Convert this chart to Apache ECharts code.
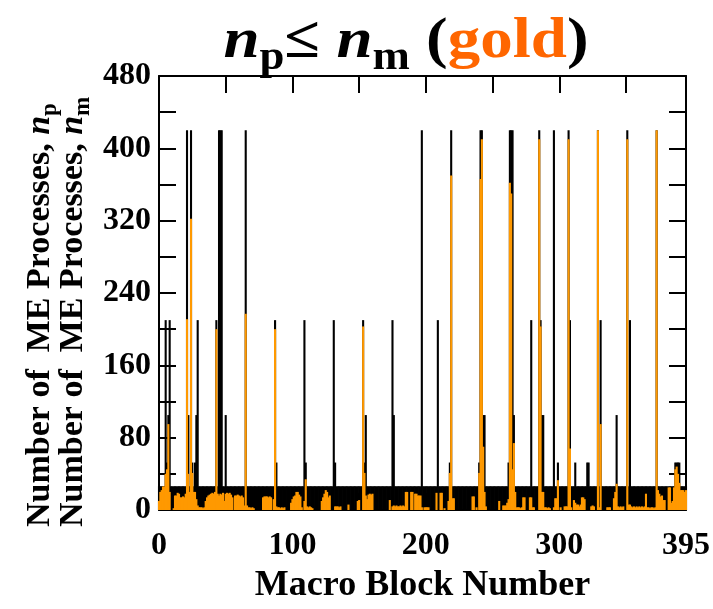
<!DOCTYPE html>
<html><head><meta charset="utf-8">
<script src="https://cdn.jsdelivr.net/npm/echarts@6/dist/echarts.min.js"></script>
<style>html,body{margin:0;padding:0;background:#fff}#c{width:713px;height:609px}</style>
</head><body><div id="c"></div><script>
// Number of ME processes per macro block (index = macro block number 0..395)
const nm = [
26.25,26.25,26.25,26.25,26.25,210,52.5,105,210,26.25,26.25,26.25,26.25,26.25,26.25,26.25,26.25,26.25,26.25,26.25,
26.25,420,105,26.25,420,52.5,26.25,52.5,105,210,26.25,26.25,26.25,26.25,26.25,26.25,26.25,26.25,26.25,26.25,
26.25,26.25,26.25,210,26.25,420,420,420,26.25,26.25,105,26.25,26.25,26.25,26.25,26.25,26.25,26.25,26.25,26.25,
26.25,26.25,26.25,26.25,26.25,420,26.25,26.25,26.25,26.25,26.25,26.25,26.25,26.25,26.25,26.25,26.25,26.25,26.25,26.25,
26.25,26.25,26.25,26.25,26.25,26.25,26.25,210,52.5,26.25,26.25,26.25,26.25,26.25,26.25,26.25,26.25,26.25,26.25,26.25,
26.25,26.25,26.25,26.25,26.25,26.25,26.25,26.25,26.25,210,52.5,26.25,26.25,26.25,26.25,26.25,26.25,26.25,26.25,26.25,
26.25,26.25,26.25,26.25,26.25,26.25,26.25,26.25,26.25,26.25,26.25,210,52.5,26.25,26.25,26.25,26.25,26.25,26.25,26.25,
26.25,26.25,26.25,26.25,26.25,26.25,26.25,26.25,26.25,26.25,26.25,26.25,26.25,210,52.5,105,26.25,26.25,26.25,26.25,
26.25,26.25,26.25,26.25,26.25,26.25,26.25,26.25,26.25,26.25,26.25,26.25,26.25,26.25,26.25,210,105,26.25,26.25,26.25,
26.25,26.25,26.25,26.25,26.25,26.25,26.25,26.25,26.25,26.25,26.25,26.25,26.25,26.25,26.25,26.25,26.25,420,26.25,26.25,
26.25,26.25,26.25,26.25,26.25,26.25,26.25,26.25,26.25,210,26.25,26.25,26.25,26.25,26.25,26.25,26.25,26.25,52.5,420,
26.25,26.25,26.25,26.25,26.25,26.25,26.25,26.25,26.25,26.25,26.25,26.25,26.25,26.25,26.25,26.25,26.25,26.25,26.25,26.25,
52.5,420,420,105,105,26.25,26.25,26.25,26.25,26.25,26.25,26.25,26.25,26.25,26.25,26.25,26.25,26.25,26.25,26.25,
26.25,26.25,52.5,420,420,420,105,26.25,26.25,26.25,26.25,26.25,26.25,26.25,26.25,26.25,26.25,26.25,26.25,210,
26.25,26.25,26.25,26.25,26.25,420,210,105,105,26.25,26.25,26.25,26.25,26.25,26.25,26.25,420,26.25,26.25,52.5,
26.25,26.25,26.25,26.25,26.25,26.25,26.25,420,210,26.25,26.25,26.25,52.5,26.25,26.25,26.25,26.25,26.25,26.25,26.25,
26.25,52.5,52.5,26.25,26.25,26.25,26.25,26.25,26.25,420,26.25,210,26.25,26.25,26.25,26.25,26.25,26.25,26.25,26.25,
26.25,26.25,26.25,105,26.25,26.25,26.25,26.25,26.25,26.25,26.25,420,26.25,210,26.25,26.25,26.25,26.25,26.25,26.25,
26.25,26.25,26.25,26.25,26.25,26.25,26.25,26.25,26.25,26.25,26.25,26.25,26.25,420,26.25,26.25,26.25,26.25,26.25,26.25,
26.25,26.25,26.25,26.25,26.25,26.25,26.25,52.5,52.5,52.5,52.5,26.25,26.25,26.25,26.25,26.25
];
const np = [
10,20,22,26,26,40,45,95,20,0,0,2,16,16,19,18,14,14,15,14,
18,211,40,20,322,41,20,20,12,5,3,3,3,2,3,10,14,16,17,18,
19,18,20,200,18,16,18,17,19,10,18,19,18,19,17,14,0,16,16,17,
16,15,16,14,5,217,5,3,3,2,3,2,0,0,0,0,0,0,14,15,
15,15,14,15,14,0,12,200,4,3,3,2,3,2,3,0,0,0,0,8,
12,15,16,20,20,17,15,3,0,10,34,4,3,4,3,2,0,0,0,0,
0,0,10,14,18,22,20,14,16,0,0,0,4,4,4,3,4,0,0,0,
0,0,6,0,0,0,0,0,0,10,11,0,0,203,41,16,12,17,18,17,
18,0,0,0,0,0,0,0,0,0,0,0,0,11,0,4,5,4,5,4,
4,5,4,5,4,20,20,0,0,20,20,0,18,18,16,16,16,3,0,3,
3,3,3,0,0,0,0,0,19,0,0,19,19,0,2,0,0,10,41,370,
13,13,0,0,0,0,0,0,0,0,0,0,0,0,0,15,15,0,3,0,
41,366,410,70,20,4,0,0,0,0,0,0,0,0,0,10,0,0,5,5,
5,8,12,362,350,45,74,20,3,3,3,2,3,14,14,0,0,0,14,14,
3,3,0,0,0,410,203,20,20,3,3,2,3,2,0,0,3,13,13,33,
0,3,0,0,4,4,4,410,68,3,0,11,8,6,6,4,6,14,14,12,
0,0,0,0,4,5,4,0,0,420,3,95,0,0,0,0,3,3,3,0,
0,13,20,29,4,3,4,3,4,0,0,410,6,6,4,3,4,3,4,3,
4,3,4,3,4,18,3,3,2,3,3,2,3,420,22,18,15,16,11,11,
0,0,25,25,8,10,25,45,48,40,30,22,22,22,20,22
];
const xTickLabels = ['0','100','200','300','395'];
const yTickLabels = ['0','80','160','240','320','400','480'];

const FONT = '"Liberation Serif", "Times New Roman", serif';
const ctx = document.createElement('canvas').getContext('2d');
function tw(t, s, it){ ctx.font = (it?'italic ':'') + 'bold ' + s + 'px ' + FONT; return ctx.measureText(t).width; }
function pieces(list){
  let x = 0; const out = [];
  list.forEach(p => {
    out.push({type:'text', x:x, y:(p.dy||0) - 0.2*p.s, style:{text:p.t, font:(p.i?'italic ':'')+'bold '+p.s+'px '+FONT, fill:p.c||'#000', textAlign:'left', verticalAlign:'middle', textVerticalAlign:'middle'}});
    x += tw(p.t, p.s, p.i) + (p.sp||0);
  });
  return {children: out, width: x};
}
const titleP = pieces([
  {t:'n', s:58, i:1}, {t:'p', s:40, dy:13}, {t:'\u2264', s:58}, {t:' ', s:58},
  {t:'n', s:58, i:1}, {t:'m', s:40, dy:13}, {t:' (', s:58}, {t:'gold', s:58, c:'#ff6600'}, {t:')', s:58}
]);
const TSX = 1.12;
const yl1 = pieces([{t:'Number of  ME Processes, ', s:34}, {t:'n', s:34, i:1}, {t:'p', s:23, dy:8}]);
const yl2 = pieces([{t:'Number of  ME Processes, ', s:34}, {t:'n', s:34, i:1}, {t:'m', s:23, dy:8}]);

const chart = echarts.init(document.getElementById('c'), null, {renderer:'canvas'});
const axisLbl = {fontFamily: FONT, fontWeight:'bold', fontSize:32, color:'#000'};
const lineStyle = {color:'#000', width:2};
chart.setOption({
  animation:false,
  backgroundColor:'#fff',
  grid:{left:159, right:23, top:76, bottom:87},
  xAxis:[
    {type:'value', min:0, max:395, interval:50, position:'bottom',
     axisLine:{show:true, onZero:false, lineStyle}, axisTick:{show:true, inside:true, length:17, lineStyle},
     splitLine:{show:false},
     axisLabel:Object.assign({margin:20, showMaxLabel:true, formatter:v => xTickLabels.includes(String(v)) ? String(v) : ''}, axisLbl),
     name:'Macro Block Number', nameLocation:'middle', nameGap:58,
     nameTextStyle:{fontFamily:FONT, fontWeight:'bold', fontSize:36, color:'#000'}},
    {type:'value', min:0, max:395, interval:50, position:'top',
     axisLine:{show:true, onZero:false, lineStyle}, axisTick:{show:true, inside:true, length:17, lineStyle},
     splitLine:{show:false}, axisLabel:{show:false}}
  ],
  yAxis:[
    {type:'value', min:0, max:480, interval:40, position:'left',
     axisLine:{show:true, onZero:false, lineStyle}, axisTick:{show:true, inside:true, length:17, lineStyle},
     splitLine:{show:false},
     axisLabel:Object.assign({margin:8, formatter:v => yTickLabels.includes(String(v)) ? String(v) : ''}, axisLbl)},
    {type:'value', min:0, max:480, interval:40, position:'right',
     axisLine:{show:true, onZero:false, lineStyle}, axisTick:{show:true, inside:true, length:17, lineStyle},
     splitLine:{show:false}, axisLabel:{show:false}}
  ],
  series:[
    {type:'bar', name:'n_m', data:nm.map((v,i)=>[i,v]), barWidth:2.1, barGap:'-100%', itemStyle:{color:'#000'}, clip:true, z:2},
    {type:'bar', name:'n_p', data:np.map((v,i)=>[i,v]), barWidth:2.1, barGap:'-100%', itemStyle:{color:'#ff9900'}, clip:true, z:3}
  ],
  graphic:[
    {type:'group', x:406 - titleP.width*TSX/2, y:54, scaleX:TSX, children:titleP.children},
    {type:'group', x:47, y:527, rotation:Math.PI/2, children:yl1.children},
    {type:'group', x:80, y:527, rotation:Math.PI/2, children:yl2.children}
  ]
});
</script></body></html>
